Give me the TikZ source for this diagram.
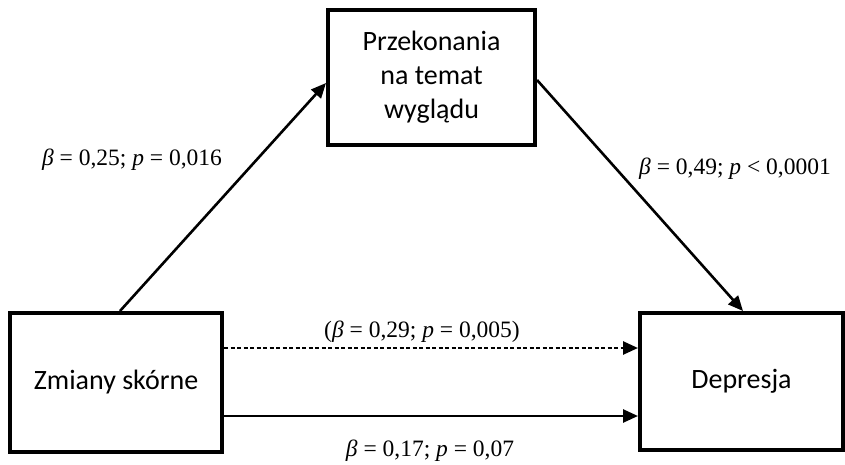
\documentclass[tikz,border=0pt]{standalone}
\usepackage{fontspec}
\setmainfont{Liberation Serif}
\newfontfamily\boxfont{Carlito}
\usetikzlibrary{arrows.meta}
\tikzset{
  boxnode/.style={draw=black, line width=4pt, fill=white, align=center,
    font=\boxfont\fontsize{28}{34}\selectfont, inner sep=0pt},
  conn/.style={line width=2.6pt, -{Triangle[length=15pt,width=13pt]}},
  dotconn/.style={conn, dash pattern=on 4pt off 2.5pt},
  lbl/.style={font=\fontsize{23.5}{27}\selectfont, inner sep=0pt, anchor=base}
}
\begin{document}
\begin{tikzpicture}[x=1pt,y=-1pt]
\useasboundingbox (0,0) rectangle (845,465);
\node[boxnode, minimum width=207pt, minimum height=135pt] (top) at (431.5,77.5) {Przekonania\\na temat\\wyglądu};
\node[boxnode, minimum width=212pt, minimum height=139pt] (left) at (116,382.5) {Zmiany skórne};
\node[boxnode, minimum width=203pt, minimum height=137pt] (right) at (741.5,381.5) {Depresja};
\draw[conn] ([xshift=4pt]left.north) -- ([yshift=-5.5pt]top.west);
\draw[conn] ([yshift=-2.5pt]top.east) -- ([xshift=1.5pt]right.north);
\draw[dotconn] ([yshift=34.5pt]left.east) -- ([yshift=34.5pt]left.east -| right.west);
\draw[conn] ([yshift=-33.5pt]left.east) -- ([yshift=-33.5pt]left.east -| right.west);
\node[lbl] (l1) at (132,166) {\textit{β} = 0,25; \textit{p} = 0,016};
\node[lbl] (l2) at (735,175) {\textit{β} = 0,49; \textit{p} < 0,0001};
\node[lbl] (l3) at (422,337) {(\textit{β} = 0,29; \textit{p} = 0,005)};
\node[lbl] (l4) at (430,456) {\textit{β} = 0,17; \textit{p} = 0,07};
\end{tikzpicture}
\end{document}
